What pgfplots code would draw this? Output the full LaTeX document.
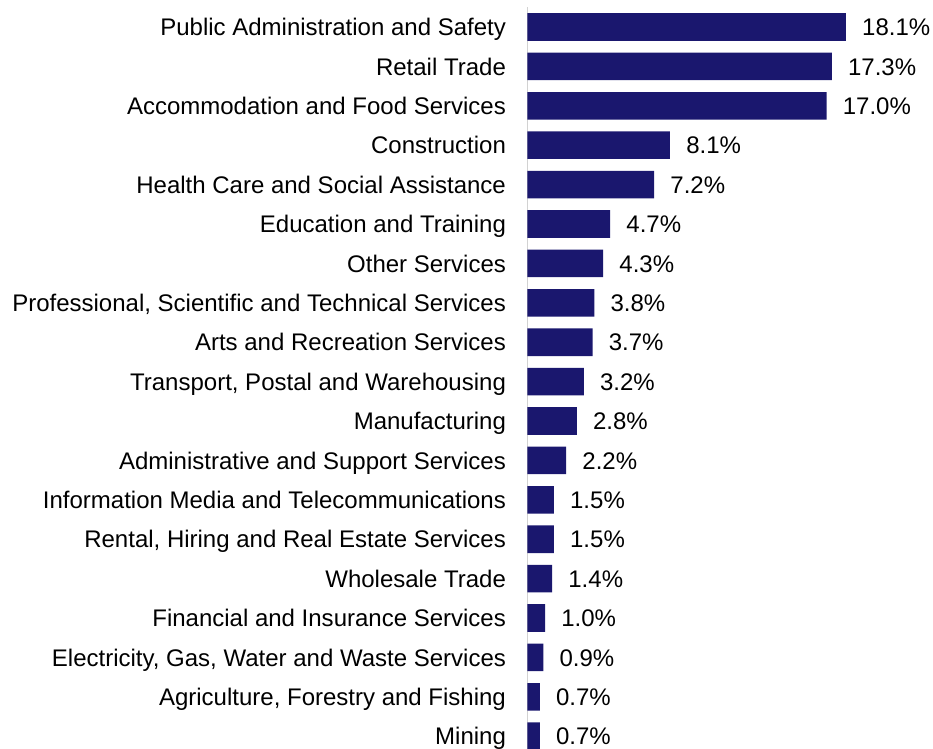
\documentclass[border=0pt]{standalone}
\usepackage{pgfplots}
\pgfplotsset{compat=1.18}
\usepackage{fontspec}
\setmainfont{Liberation Sans}
\definecolor{barc}{RGB}{26,23,110}
\definecolor{axc}{RGB}{210,210,210}
\begin{document}
\begin{tikzpicture}
\begin{axis}[
  scale only axis, width=304.1pt, height=561pt,
  xmin=0, xmax=23.05, ymin=-0.685, ymax=18.3, y dir=reverse,
  xbar, bar width=0.7, bar shift=0pt,
  axis line style={draw=none},
  xtick=\empty,
  ytick={0,...,18},
  major tick length=0pt,
  clip=false,
  yticklabels={Public Administration and Safety, Retail Trade, Accommodation and Food Services, Construction, Health Care and Social Assistance, Education and Training, Other Services, {Professional, Scientific and Technical Services}, Arts and Recreation Services, {Transport, Postal and Warehousing}, Manufacturing, Administrative and Support Services, Information Media and Telecommunications, {Rental, Hiring and Real Estate Services}, Wholesale Trade, Financial and Insurance Services, {Electricity, Gas, Water and Waste Services}, {Agriculture, Forestry and Fishing}, Mining},
  yticklabel style={font=\fontsize{18}{18}\selectfont, inner sep=0pt, xshift=-16pt, text height=12.9pt, text depth=0pt, anchor=east},
  point meta=x,
  /pgf/number format/assume math mode=true,
  nodes near coords={\pgfmathprintnumber[fixed,fixed zerofill,precision=1]{\pgfplotspointmeta}\%},
  every node near coord/.append style={font=\fontsize{18}{18}\selectfont, color=black, anchor=west, inner sep=0pt, xshift=12pt, text height=12.9pt, text depth=0pt},
]
\draw[axc, line width=1.1pt] (axis cs:0,-0.5) -- (axis cs:0,18.7);
\addplot[fill=barc, draw=none] coordinates {
(18.1,0) (17.3,1) (17.0,2) (8.1,3) (7.2,4) (4.7,5) (4.3,6) (3.8,7) (3.7,8) (3.2,9)
(2.8,10) (2.2,11) (1.5,12) (1.5,13) (1.4,14) (1.0,15) (0.9,16) (0.7,17) (0.7,18)
};
\end{axis}
\pgfresetboundingbox
\path ([xshift=-395.6pt]current axis.south west) rectangle (current axis.north east);
\end{tikzpicture}
\end{document}
